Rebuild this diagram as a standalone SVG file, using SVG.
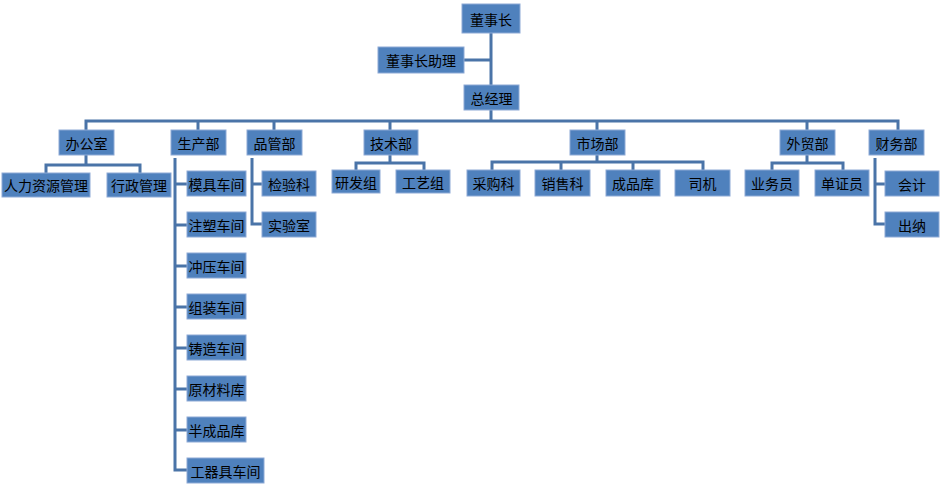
<svg xmlns="http://www.w3.org/2000/svg" width="941" height="490" viewBox="0 0 941 490">
<style>
rect{fill:#4F81BD;stroke:#8EAAD6;stroke-width:1}
text{font-family:"Noto Sans CJK SC","Liberation Sans",sans-serif;font-size:14px;fill:#000;text-anchor:middle;dominant-baseline:central}
.c path{fill:none;stroke:#4A74A8;stroke-width:3}
</style>
<rect x="0" y="0" width="941" height="490" style="fill:#fff;stroke:none"/>
<g class="c">
<path d="M491 33V86M464 60H491"/>
<path d="M491 110V121M86 130V121H898V130M198 121V130M274 121V130M390 121V130M597 121V130M807 121V130"/>
<path d="M86 155V165M46 173V165H140V173"/>
<path d="M175 158V470H187M175 184H187M175 225H187M175 266H187M175 307H187M175 348H187M175 389H187M175 430H187"/>
<path d="M252 158V224H262M252 184H262"/>
<path d="M390 155V163M356 170V163H424V170"/>
<path d="M597 155V162M492 170V162H703V170M561 162V170M633 162V170"/>
<path d="M807 155V163M772 170V163H843V170"/>
<path d="M875 158V224H885M875 184H885"/>
</g>
<g id="n1"><rect x="462" y="4" width="58" height="29"/><text x="491" y="18.5">董事长</text></g>
<g id="n2"><rect x="378" y="47" width="86" height="26"/><text x="421" y="60">董事长助理</text></g>
<g id="n3"><rect x="464" y="85" width="55" height="25"/><text x="491.5" y="97.5">总经理</text></g>
<g id="d1"><rect x="59" y="130" width="55" height="25"/><text x="86.5" y="142.5">办公室</text></g>
<g id="d2"><rect x="171" y="130" width="55" height="25"/><text x="198.5" y="142.5">生产部</text></g>
<g id="d3"><rect x="247" y="130" width="55" height="25"/><text x="274.5" y="142.5">品管部</text></g>
<g id="d4"><rect x="364" y="130" width="54" height="25"/><text x="391" y="142.5">技术部</text></g>
<g id="d5"><rect x="570" y="130" width="55" height="25"/><text x="597.5" y="142.5">市场部</text></g>
<g id="d6"><rect x="780" y="130" width="55" height="25"/><text x="807.5" y="142.5">外贸部</text></g>
<g id="d7"><rect x="869" y="130" width="55" height="25"/><text x="896.5" y="142.5">财务部</text></g>
<g id="a1"><rect x="2" y="173" width="88" height="24"/><text x="46" y="185">人力资源管理</text></g>
<g id="a2"><rect x="107" y="173" width="64" height="24"/><text x="139" y="185">行政管理</text></g>
<g id="b1"><rect x="187" y="171" width="59" height="25"/><text x="216.5" y="183.5">模具车间</text></g>
<g id="b2"><rect x="187" y="212" width="59" height="25"/><text x="216.5" y="224.5">注塑车间</text></g>
<g id="b3"><rect x="187" y="253" width="59" height="25"/><text x="216.5" y="265.5">冲压车间</text></g>
<g id="b4"><rect x="187" y="294" width="59" height="25"/><text x="216.5" y="306.5">组装车间</text></g>
<g id="b5"><rect x="187" y="335" width="59" height="25"/><text x="216.5" y="347.5">铸造车间</text></g>
<g id="b6"><rect x="187" y="376" width="59" height="25"/><text x="216.5" y="388.5">原材料库</text></g>
<g id="b7"><rect x="187" y="417" width="59" height="25"/><text x="216.5" y="429.5">半成品库</text></g>
<g id="b8"><rect x="187" y="458" width="77" height="25"/><text x="225.5" y="470.5">工器具车间</text></g>
<g id="q1"><rect x="262" y="171" width="54" height="25"/><text x="289" y="183.5">检验科</text></g>
<g id="q2"><rect x="262" y="212" width="54" height="25"/><text x="289" y="224.5">实验室</text></g>
<g id="t1"><rect x="332" y="170" width="48" height="23"/><text x="356" y="181.5">研发组</text></g>
<g id="t2"><rect x="396" y="170" width="54" height="23"/><text x="423" y="181.5">工艺组</text></g>
<g id="m1"><rect x="467" y="170" width="53" height="26"/><text x="493.5" y="183">采购科</text></g>
<g id="m2"><rect x="535" y="170" width="55" height="26"/><text x="562.5" y="183">销售科</text></g>
<g id="m3"><rect x="606" y="170" width="54" height="26"/><text x="633" y="183">成品库</text></g>
<g id="m4"><rect x="675" y="170" width="55" height="26"/><text x="702.5" y="183">司机</text></g>
<g id="w1"><rect x="745" y="170" width="54" height="26"/><text x="772" y="183">业务员</text></g>
<g id="w2"><rect x="815" y="170" width="54" height="26"/><text x="842" y="183">单证员</text></g>
<g id="f1"><rect x="885" y="171" width="54" height="25"/><text x="912" y="183.5">会计</text></g>
<g id="f2"><rect x="885" y="212" width="54" height="25"/><text x="912" y="224.5">出纳</text></g>
</svg>
